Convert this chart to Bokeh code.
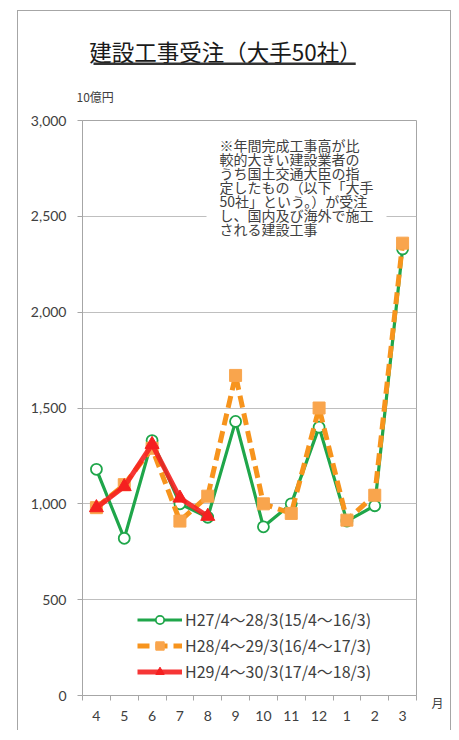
from bokeh.plotting import figure
from bokeh.models import (Range1d, FixedTicker, NumeralTickFormatter, Label,
                          Legend, LegendItem, BoxAnnotation)
from bokeh.embed import file_html
from bokeh.resources import INLINE

# ---- data ----
months = ["4", "5", "6", "7", "8", "9", "10", "11", "12", "1", "2", "3"]
h27 = [1180, 820, 1330, 1000, 930, 1430, 880, 1000, 1400, 910, 990, 2330]
h28 = [980, 1100, 1290, 910, 1040, 1670, 1000, 950, 1500, 915, 1045, 2360]
h29 = [980, 1090, 1310, 1030, 935]
series_names = ["H27/4～28/3(15/4～16/3)",
                "H28/4～29/3(16/4～17/3)",
                "H29/4～30/3(17/4～18/3)"]
y_ticks = [0, 500, 1000, 1500, 2000, 2500, 3000]
title_text = "建設工事受注（大手50社）"
unit_text = "10億円"
month_text = "月"
note_lines = ["※年間完成工事高が比",
              "較的大きい建設業者の",
              "うち国土交通大臣の指",
              "定したもの（以下「大手",
              "50社」という。）が受注",
              "し、国内及び海外で施工",
              "される建設工事"]

JP = "Noto Sans CJK JP"
NUM = "Lato"
W, H = 434, 720
FL, FR, FT, FB = 64, 398, 109, 684   # frame edges in canvas px

p = figure(width=W, height=H, output_backend="svg", toolbar_location=None,
           x_range=Range1d(-0.5, len(months) - 0.5), y_range=Range1d(0, 3000),
           min_border_left=FL, min_border_right=W - FR, min_border_top=FT,
           min_border_bottom=H - FB)
p.styles = {"margin-left": "17px", "margin-top": "10px",
            "border-left": "1px solid #a6a6a6", "border-top": "1px solid #a6a6a6",
            "border-right": "1px solid #a6a6a6"}
p.outline_line_color = "#a6a6a6"
p.background_fill_color = "white"
p.border_fill_color = "white"

xs = list(range(len(months)))
p.xaxis.ticker = FixedTicker(ticks=xs, minor_ticks=[i - 0.5 for i in range(len(months) + 1)])
p.xaxis.major_label_overrides = {i: m for i, m in enumerate(months)}
p.xaxis.major_tick_out = 0
p.xaxis.major_tick_in = 0
p.xaxis.minor_tick_out = 5
p.xaxis.minor_tick_in = 0
p.xaxis.minor_tick_line_color = "#a6a6a6"
p.xaxis.axis_line_color = "#a6a6a6"
p.xaxis.major_label_standoff = 10
p.xaxis.major_label_text_font = NUM
p.xaxis.major_label_text_font_size = "14px"
p.xaxis.major_label_text_color = "#404040"
p.xgrid.visible = False

p.yaxis.ticker = FixedTicker(ticks=y_ticks)
p.yaxis.formatter = NumeralTickFormatter(format="0,0")
p.yaxis.major_tick_out = 5
p.yaxis.major_tick_in = 0
p.yaxis.minor_tick_out = 0
p.yaxis.minor_tick_in = 0
p.yaxis.major_tick_line_color = "#a6a6a6"
p.yaxis.axis_line_color = "#a6a6a6"
p.yaxis.major_label_standoff = 11
p.yaxis.major_label_text_font = NUM
p.yaxis.major_label_text_font_size = "14px"
p.yaxis.major_label_text_color = "#404040"
p.ygrid.grid_line_color = "#bfbfbf"

# note box background (covers grid line)
p.add_layout(BoxAnnotation(left=187, right=367, top=124, bottom=225, left_units="canvas",
                           right_units="canvas", top_units="canvas", bottom_units="canvas",
                           fill_color="white", fill_alpha=1, line_alpha=0, level="underlay"))

green = "#1fa64a"
orange = "#f7941d"
red = "#f52020"

g_line = p.line(xs, h27, line_color=green, line_width=3.2)
g_pts = p.scatter(xs, h27, marker="circle", size=11, line_color=green, line_width=1.8,
                  fill_color="white")
o_line = p.line(xs, h28, line_color=orange, line_width=5, line_dash="12 6")
o_pts = p.scatter(xs, h28, marker="square", size=12, line_color="#f9a54d",
                  fill_color="#f9a54d")
r_line = p.line(xs[:len(h29)], h29, line_color=red, line_width=5, line_alpha=0.9)
r_pts = p.scatter(xs[:len(h29)], h29, marker="triangle", size=14, line_color=red,
                  fill_color=red)

legend = Legend(items=[LegendItem(label=series_names[0], renderers=[g_line, g_pts]),
                       LegendItem(label=series_names[1], renderers=[o_line, o_pts]),
                       LegendItem(label=series_names[2], renderers=[r_line, r_pts])],
                location=(55, 12), glyph_width=45, glyph_height=21, label_height=21,
                spacing=2, padding=0, margin=0, border_line_alpha=0,
                background_fill_alpha=0, label_text_font=JP,
                label_text_font_size="16px", label_text_color="#404040",
                label_standoff=3)
p.add_layout(legend, "center")

# texts outside the frame (placed in side panels so they are not clipped)
p.add_layout(Label(x=206, y=38, x_units="canvas", y_units="canvas", text=title_text,
                   text_font=JP, text_font_size="22.5px", text_color="#1a1a1a",
                   text_align="center", text_baseline="middle"), "above")
# underline of the title
p.add_layout(Label(x=74, y=50, x_units="canvas", y_units="canvas", text=" ",
                   text_font=JP, text_font_size="1px", text_align="left",
                   text_baseline="top", background_fill_color="#333333",
                   background_fill_alpha=1, padding=(0, 262, 1, 0)), "above")
p.add_layout(Label(x=57, y=84, x_units="canvas", y_units="canvas", text=unit_text,
                   text_font=JP, text_font_size="12px", text_color="#404040",
                   text_align="left", text_baseline="middle"), "above")
p.add_layout(Label(x=418, y=690, x_units="canvas", y_units="canvas", text=month_text,
                   text_font=JP, text_font_size="12px", text_color="#404040",
                   text_align="center", text_baseline="middle"), "right")
for i, t in enumerate(note_lines):
    p.add_layout(Label(x=200, y=132 + 14 * i, x_units="canvas", y_units="canvas", text=t,
                       text_font=JP, text_font_size="14px", text_color="#404040",
                       text_align="left", text_baseline="middle"))

open("out.html", "w").write(file_html(p, INLINE))
